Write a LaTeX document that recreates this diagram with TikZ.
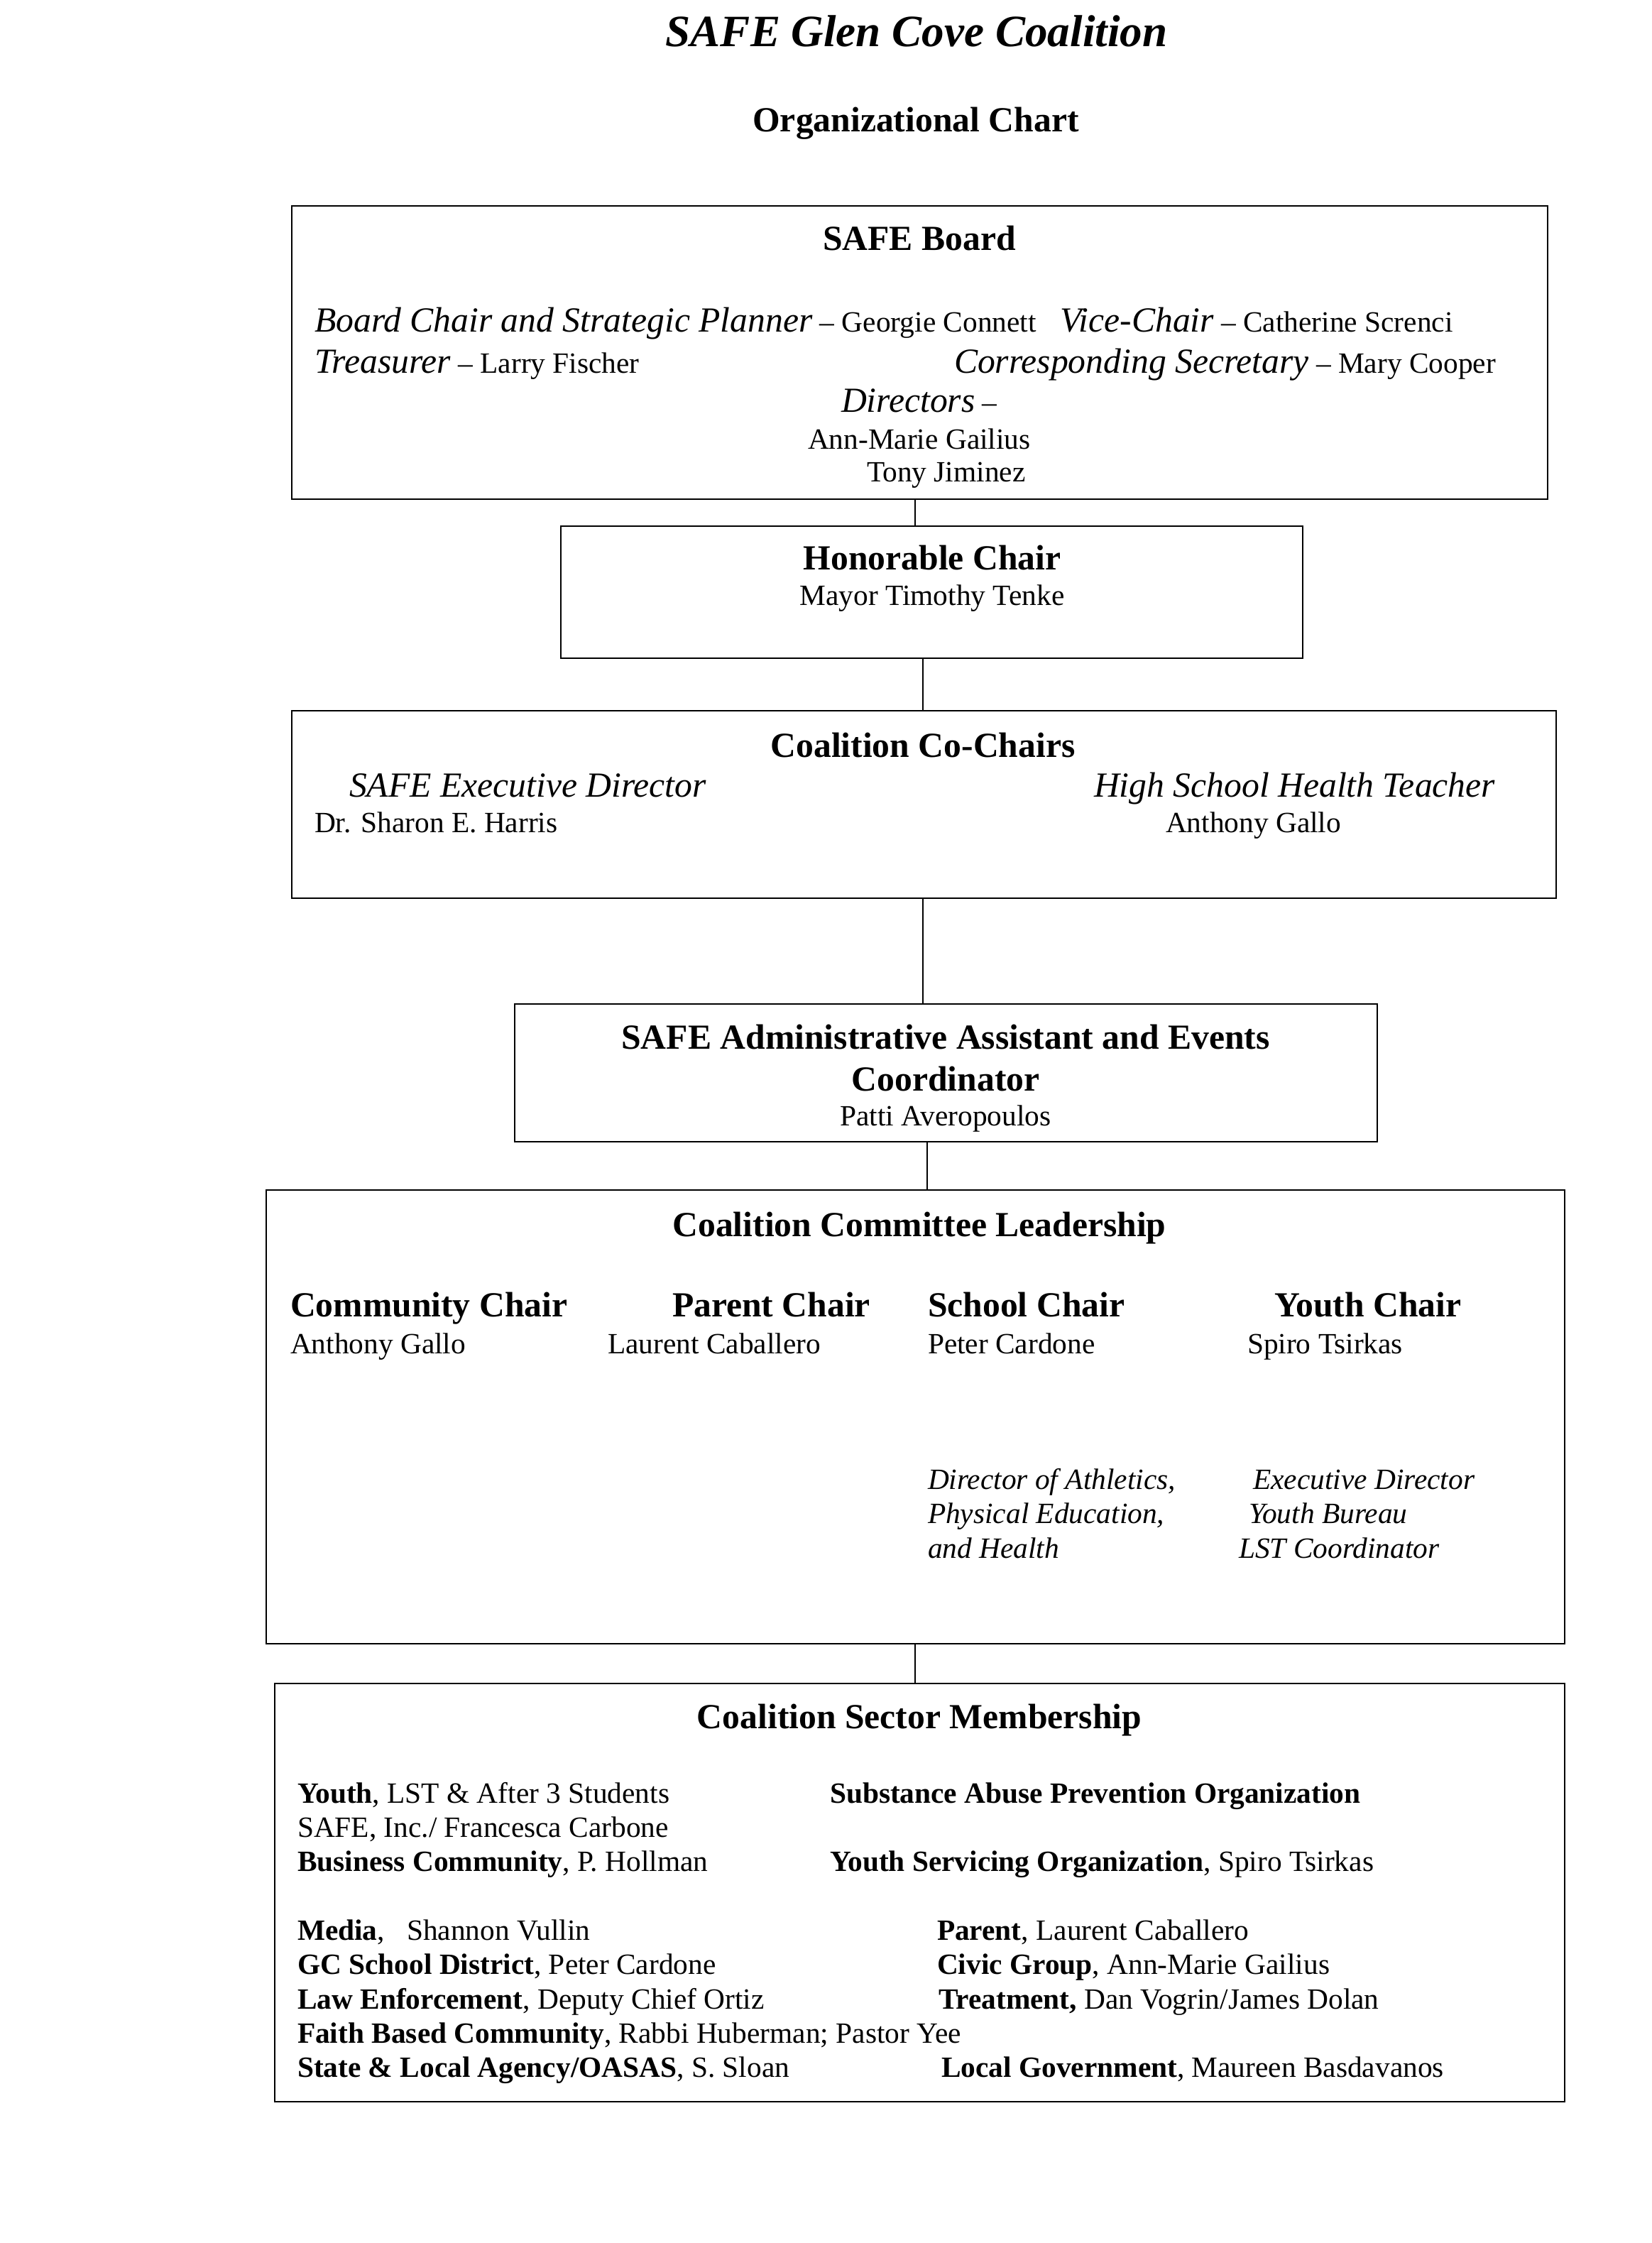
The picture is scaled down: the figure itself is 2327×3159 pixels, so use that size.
\documentclass[tikz,border=0pt]{standalone}
\usepackage{fontspec}
\setmainfont{Liberation Serif}
\usetikzlibrary{fit}
\newcommand\bodyf{\fontsize{12}{14}\selectfont}
\newcommand\headf{\fontsize{14.4}{17}\selectfont\bfseries}
\newcommand\rolef{\fontsize{14.4}{17}\selectfont\itshape}
\newcommand\smitf{\fontsize{12}{14}\selectfont\itshape}
\tikzset{
  box/.style={draw, line width=0.75pt, inner sep=0pt, rectangle},
  conn/.style={draw, line width=0.55pt},
  txt/.style={anchor=base west, inner sep=0pt, outer sep=0pt, font=\bodyf},
  ctxt/.style={anchor=base, inner sep=0pt, outer sep=0pt, font=\bodyf},
}
\begin{document}
\begin{tikzpicture}[x=0.29pt, y=-0.29pt]
\useasboundingbox (0,0) rectangle (2327,3159);
% titles
\node[ctxt, font=\fontsize{18.3}{22}\selectfont\bfseries\itshape] (title) at (1291,65) {SAFE Glen Cove Coalition};
\node[ctxt, font=\headf] (sub) at (1290,185) {Organizational Chart};
% boxes
\node[box, fit={(411,290) (2180,703)}] (board) {};
\node[box, fit={(790,741) (1835,927)}] (hon) {};
\node[box, fit={(411,1001) (2192,1265)}] (cochair) {};
\node[box, fit={(725,1414) (1940,1608)}] (admin) {};
\node[box, fit={(375,1676) (2204,2315)}] (comm) {};
\node[box, fit={(387,2371) (2204,2960)}] (sector) {};
% connectors
\coordinate (k1) at (1289,0);
\coordinate (k2) at (1300,0);
\coordinate (k3) at (1306,0);
\draw[conn] (board.south -| k1) -- (hon.north -| k1);
\draw[conn] (hon.south -| k2) -- (cochair.north -| k2);
\draw[conn] (cochair.south -| k2) -- (admin.north -| k2);
\draw[conn] (admin.south -| k3) -- (comm.north -| k3);
\draw[conn] (comm.south -| k1) -- (sector.north -| k1);
% SAFE Board
\node[ctxt, font=\headf] (bt) at (1295,352) {SAFE Board};
\node[txt] (b1) at (443,467) {{\rolef Board Chair and Strategic Planner} – Georgie Connett};
\node[txt] (b2) at (1493,467) {{\rolef Vice-Chair} – Catherine Screnci};
\node[txt] (b3) at (443,525) {{\rolef Treasurer} – Larry Fischer};
\node[txt] (b4) at (1344,525) {{\rolef Corresponding Secretary} – Mary Cooper};
\node[txt] (b5) at (1185,580) {{\rolef Directors} –};
\node[txt] (b6) at (1138,632) {Ann-Marie Gailius};
\node[txt] (b7) at (1221,678) {Tony Jiminez};
% Honorable chair
\node[ctxt, font=\headf] (ht) at (1313,802) {Honorable Chair};
\node[ctxt] (h1) at (1313,852) {Mayor Timothy Tenke};
% Co-chairs
\node[ctxt, font=\headf] (ct) at (1300,1066) {Coalition Co-Chairs};
\node[txt, font=\rolef] (c1) at (492,1122) {SAFE Executive Director};
\node[txt, font=\rolef] (c2) at (1541,1122) {High School Health Teacher};
\node[txt] (c3) at (443,1172) {Dr. Sharon E. Harris};
\node[txt] (c4) at (1642,1172) {Anthony Gallo};
% Admin
\node[ctxt, font=\headf] (at1) at (1332,1477) {SAFE Administrative Assistant and Events};
\node[ctxt, font=\headf] (at2) at (1332,1536) {Coordinator};
\node[ctxt] (a1) at (1332,1585) {Patti Averopoulos};
% Committee leadership
\node[ctxt, font=\headf] (lt) at (1295,1741) {Coalition Committee Leadership};
\node[txt, font=\headf] (l1) at (409,1854) {Community Chair};
\node[txt, font=\headf] (l2) at (947,1854) {Parent Chair};
\node[txt, font=\headf] (l3) at (1307,1854) {School Chair};
\node[txt, font=\headf] (l4) at (1795,1854) {Youth Chair};
\node[txt] (n1) at (409,1906) {Anthony Gallo};
\node[txt] (n2) at (856,1906) {Laurent Caballero};
\node[txt] (n3) at (1307,1906) {Peter Cardone};
\node[txt] (n4) at (1757,1906) {Spiro Tsirkas};
\node[txt, font=\smitf] (s1) at (1307,2097) {Director of Athletics,};
\node[txt, font=\smitf] (s2) at (1307,2145) {Physical Education,};
\node[txt, font=\smitf] (s3) at (1307,2194) {and Health};
\node[txt, font=\smitf] (y1) at (1765,2097) {Executive Director};
\node[txt, font=\smitf] (y2) at (1759,2145) {Youth Bureau};
\node[txt, font=\smitf] (y3) at (1745,2194) {LST Coordinator};
% Sector membership
\node[ctxt, font=\headf] (st) at (1295,2434) {Coalition Sector Membership};
\node[txt] (m1) at (419,2539) {\textbf{Youth}, LST \& After 3 Students};
\node[txt] (m2) at (419,2587) {SAFE, Inc./ Francesca Carbone};
\node[txt] (m3) at (419,2635) {\textbf{Business Community}, P. Hollman};
\node[txt] (m4) at (1169,2539) {\textbf{Substance Abuse Prevention Organization}};
\node[txt] (m5) at (1169,2635) {\textbf{Youth Servicing Organization}, Spiro Tsirkas};
\node[txt] (m6) at (419,2732) {\textbf{Media},\ \ \ Shannon Vullin};
\node[txt] (m7) at (419,2780) {\textbf{GC School District}, Peter Cardone};
\node[txt] (m8) at (419,2829) {\textbf{Law Enforcement}, Deputy Chief Ortiz};
\node[txt] (m9) at (419,2877) {\textbf{Faith Based Community}, Rabbi Huberman; Pastor Yee};
\node[txt] (m10) at (419,2925) {\textbf{State \& Local Agency/OASAS}, S. Sloan};
\node[txt] (m11) at (1320,2732) {\textbf{Parent}, Laurent Caballero};
\node[txt] (m12) at (1320,2780) {\textbf{Civic Group}, Ann-Marie Gailius};
\node[txt] (m13) at (1322,2829) {\textbf{Treatment,} Dan Vogrin/James Dolan};
\node[txt] (m14) at (1326,2925) {\textbf{Local Government}, Maureen Basdavanos};
\end{tikzpicture}
\end{document}
